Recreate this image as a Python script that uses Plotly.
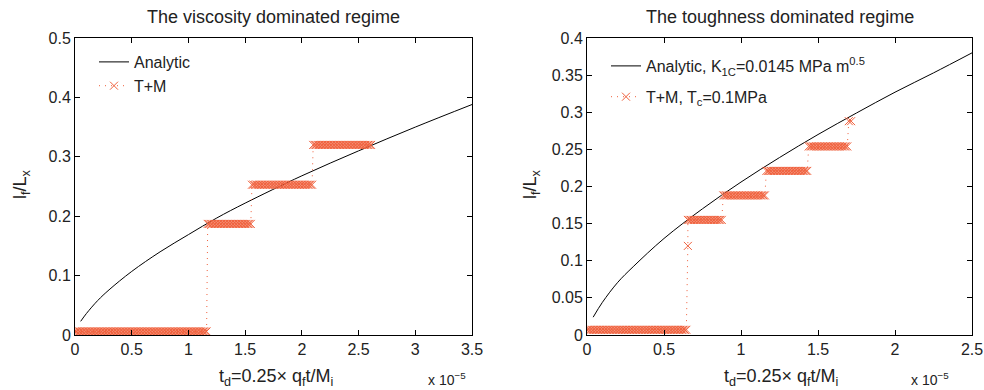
import numpy as np
import plotly.graph_objects as go

# ---------------- data (x in units of 1e-5) ----------------
# Left panel: viscosity dominated regime
visc_analytic_x = [0.05, 0.1, 0.2, 0.3, 0.5, 0.75, 1.0, 1.25, 1.5, 2.0, 2.5, 3.0, 3.5]
visc_analytic_y = [0.023, 0.036, 0.058, 0.076, 0.107, 0.140, 0.169, 0.197, 0.222, 0.268, 0.310, 0.350, 0.388]
# T+M step segments: start, end, level, number of markers
visc_seg_start = [0.0, 1.17, 1.56, 2.10]
visc_seg_end = [1.16, 1.55, 2.09, 2.61]
visc_seg_level = [0.006, 0.187, 0.253, 0.320]
visc_seg_count = [90, 30, 40, 40]

# Right panel: toughness dominated regime
tough_analytic_x = [0.04, 0.1, 0.2, 0.3, 0.5, 0.75, 1.0, 1.25, 1.5, 1.75, 2.0, 2.25, 2.5]
tough_analytic_y = [0.024, 0.044, 0.071, 0.092, 0.130, 0.170, 0.206, 0.239, 0.270, 0.299, 0.327, 0.353, 0.380]
tough_seg_start = [0.0, 0.655, 0.655, 0.885, 1.165, 1.44, 1.70]
tough_seg_end = [0.645, 0.655, 0.875, 1.155, 1.43, 1.69, 1.715]
tough_seg_level = [0.007, 0.120, 0.155, 0.188, 0.221, 0.254, 0.288]
tough_seg_count = [66, 1, 23, 28, 28, 26, 2]

x_ticks_left = [0, 0.5, 1, 1.5, 2, 2.5, 3, 3.5]
x_ticks_right = [0, 0.5, 1, 1.5, 2, 2.5]
y_ticks_left = [0, 0.1, 0.2, 0.3, 0.4, 0.5]
y_ticks_right = [0, 0.05, 0.1, 0.15, 0.2, 0.25, 0.3, 0.35, 0.4]


def expand(starts, ends, levels, counts):
    xs, ys = [], []
    for s, e, l, n in zip(starts, ends, levels, counts):
        pts = np.linspace(s, e, n) if n > 1 else np.array([s])
        xs.extend(pts.tolist())
        ys.extend([l] * len(pts))
    return xs, ys


vx, vy = expand(visc_seg_start, visc_seg_end, visc_seg_level, visc_seg_count)
tx, ty = expand(tough_seg_start, tough_seg_end, tough_seg_level, tough_seg_count)

RED = "#f0603c"
FONT = "Liberation Sans, Arial, sans-serif"
TXT = "#222222"
W, H = 984, 390

marker_style = dict(symbol="x-thin", size=8, color=RED, line=dict(color=RED, width=1))
dot_line = dict(color=RED, width=1, dash="1px,5px")

fig = go.Figure()

fig.add_trace(go.Scatter(x=visc_analytic_x, y=visc_analytic_y, mode="lines",
                         line=dict(color="black", width=1, shape="spline"),
                         name="Analytic", xaxis="x", yaxis="y", legend="legend",
                         legendgroup="a1"))
fig.add_trace(go.Scatter(x=vx, y=vy, mode="lines+markers", line=dot_line, marker=marker_style,
                         name="T+M", xaxis="x", yaxis="y", legend="legend",
                         legendgroup="b1"))

fig.add_trace(go.Scatter(x=tough_analytic_x, y=tough_analytic_y, mode="lines",
                         line=dict(color="black", width=1, shape="spline"),
                         name="Analytic, K<sub>1C</sub>=0.0145 MPa m<sup>0.5</sup>",
                         xaxis="x2", yaxis="y2", legend="legend2", legendgroup="a2"))
fig.add_trace(go.Scatter(x=tx, y=ty, mode="lines+markers", line=dot_line, marker=marker_style,
                         name="T+M, T<sub>c</sub>=0.1MPa",
                         xaxis="x2", yaxis="y2", legend="legend2", legendgroup="b2"))

axis_common = dict(showline=True, linecolor="black", linewidth=1, mirror="ticks",
                   ticks="inside", ticklen=5, tickcolor="black", showgrid=False,
                   zeroline=False, automargin=False,
                   tickfont=dict(family=FONT, size=16, color=TXT))

ydom = [55 / H, 352 / H]

fig.update_layout(
    width=W, height=H,
    margin=dict(l=0, r=0, t=0, b=0, autoexpand=False),
    paper_bgcolor="white", plot_bgcolor="white",
    font=dict(family=FONT, size=16, color=TXT),
    xaxis=dict(domain=[75 / W, 472 / W], range=[0, 3.5], tickvals=x_ticks_left,
               ticktext=[f"{v:g}" for v in x_ticks_left], anchor="y", **axis_common),
    yaxis=dict(domain=ydom, range=[0, 0.5], tickvals=y_ticks_left,
               ticktext=[f"{v:g}" for v in y_ticks_left], anchor="x", **axis_common),
    xaxis2=dict(domain=[587 / W, 972 / W], range=[0, 2.5], tickvals=x_ticks_right,
                ticktext=[f"{v:g}" for v in x_ticks_right], anchor="y2", **axis_common),
    yaxis2=dict(domain=ydom, range=[0, 0.4], tickvals=y_ticks_right,
                ticktext=[f"{v:g}" for v in y_ticks_right], anchor="x2", **axis_common),
    legend=dict(x=94 / W, y=1 - 45 / H, xanchor="left", yanchor="top",
                bgcolor="rgba(0,0,0,0)", font=dict(family=FONT, size=16, color=TXT),
                tracegroupgap=0),
    legend2=dict(x=606 / W, y=1 - 49 / H, xanchor="left", yanchor="top",
                 bgcolor="rgba(0,0,0,0)", font=dict(family=FONT, size=16, color=TXT),
                 tracegroupgap=7),
    showlegend=True,
)

title_font = dict(family=FONT, size=18, color=TXT)
label_font = dict(family=FONT, size=18, color=TXT)
xlab = "t<sub>d</sub>=0.25× q<sub>f</sub>t/M<sub>i</sub>"
ylab = "l<sub>f</sub>/L<sub>x</sub>"
ann = [
    (273.5, 17, "The viscosity dominated regime", title_font, 0),
    (779.5, 17, "The toughness dominated regime", title_font, 0),
    (276, 377, xlab, label_font, 0),
    (781, 377, xlab, label_font, 0),
    (21, 184, ylab, label_font, -90),
    (531, 184, ylab, label_font, -90),
    (447, 379, "x 10<sup>−5</sup>", dict(family=FONT, size=14, color=TXT), 0),
    (930, 379, "x 10<sup>−5</sup>", dict(family=FONT, size=14, color=TXT), 0),
]
for px, py, text, f, ang in ann:
    fig.add_annotation(text=text, x=px / W, y=1 - py / H, xref="paper", yref="paper",
                       showarrow=False, xanchor="center", yanchor="middle",
                       font=f, textangle=ang)

fig.write_html("out.html", config={"displayModeBar": False},
               post_script="document.body.style.margin='0';document.body.style.overflow='hidden';")
